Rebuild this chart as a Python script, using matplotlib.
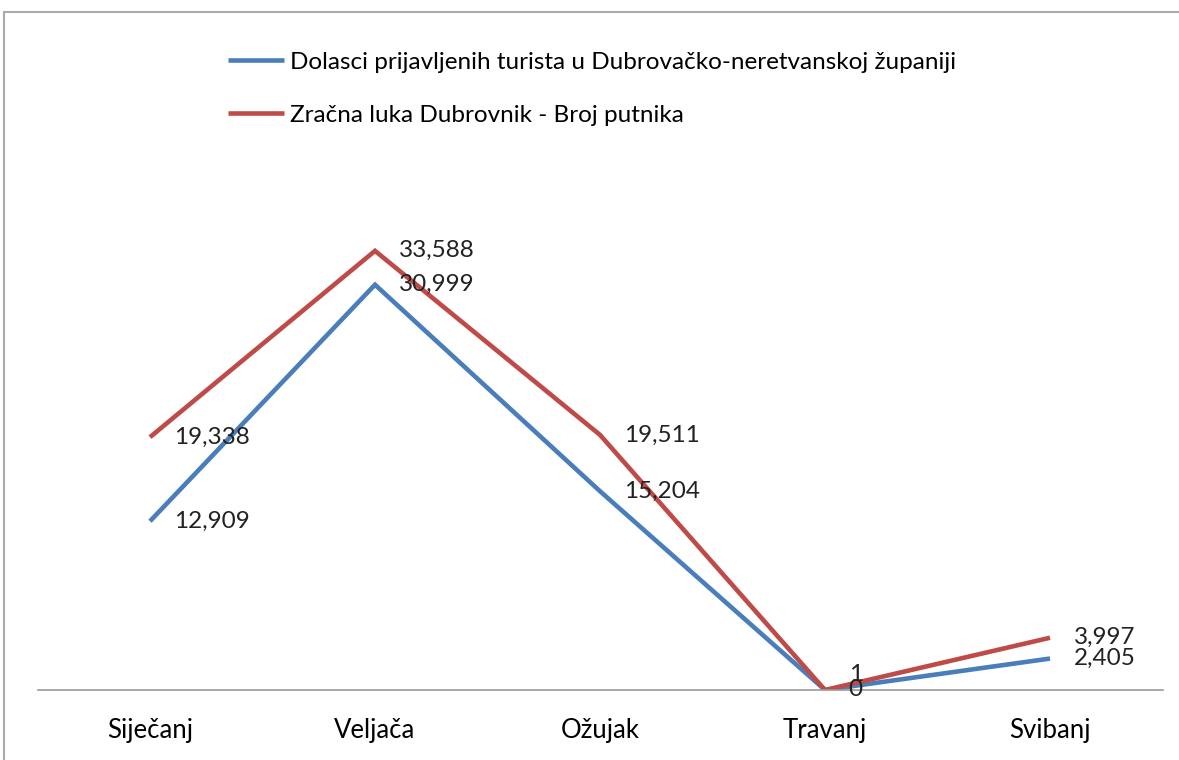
import matplotlib.pyplot as plt
from matplotlib.lines import Line2D

plt.rcParams['font.family'] = ['Lato', 'DejaVu Sans']

mjeseci = ["Siječanj", "Veljača", "Ožujak", "Travanj", "Svibanj"]
turisti = [12909, 30999, 15204, 1, 2405]
putnici = [19338, 33588, 19511, 0, 3997]
nazivi = ["Dolasci prijavljenih turista u Dubrovačko-neretvanskoj županiji",
          "Zračna luka Dubrovnik - Broj putnika"]

plava = "#4a7ebb"
crvena = "#be4b48"

fig = plt.figure(figsize=(11.79, 7.6), dpi=100)
ax = fig.add_axes([37.5 / 1179, 70 / 760, 1125 / 1179, 523 / 760])

x = range(len(mjeseci))
ax.plot(x, turisti, color=plava, lw=3.3, solid_capstyle="butt", solid_joinstyle="miter", label=nazivi[0])
ax.plot(x, putnici, color=crvena, lw=3.3, solid_capstyle="butt", solid_joinstyle="miter", label=nazivi[1])

for i, (t, p) in enumerate(zip(turisti, putnici)):
    # kad su vrijednosti gotovo iste, oznaka plave ide malo gore
    dy = 11 if abs(t - p) < 500 else 0
    ax.annotate(f"{t:,}", (i, t), xytext=(17, dy), textcoords="offset points",
                va="center", ha="left", fontsize=17.5, color="#222222")
    ax.annotate(f"{p:,}", (i, p), xytext=(17, 0), textcoords="offset points",
                va="center", ha="left", fontsize=17.5, color="#222222")

ax.set_xlim(-0.5, 4.5)
ax.set_ylim(0, 40000)
ax.set_yticks([])
ax.set_xticks(list(x))
ax.set_xticklabels(mjeseci, fontsize=18.5)
ax.tick_params(axis="x", length=0, pad=20)
for s in ["top", "right", "left"]:
    ax.spines[s].set_visible(False)
ax.spines["bottom"].set_color("#999999")
ax.spines["bottom"].set_linewidth(1.2)

# okvir grafikona
fig.add_artist(Line2D([4 / 1179, 1.01], [1 - 12 / 760, 1 - 12 / 760], color="#aaaaaa", lw=1.5))
fig.add_artist(Line2D([4 / 1179, 4 / 1179], [-0.01, 1 - 12 / 760], color="#aaaaaa", lw=1.5))

fig.legend(loc="upper left", bbox_to_anchor=(206 / 1179, 1 - 30 / 760), frameon=False,
           fontsize=17.5, handlelength=2.3, handletextpad=0.25, labelspacing=1.3)

fig.savefig("out.png", dpi=100)
